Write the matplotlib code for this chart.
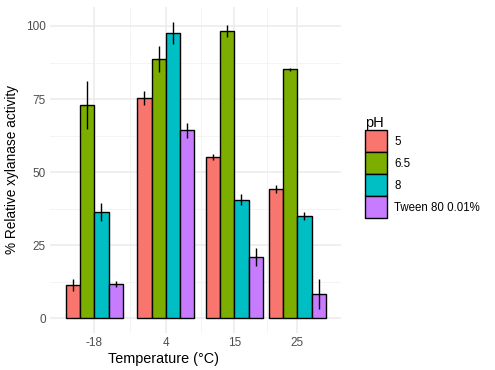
import matplotlib
matplotlib.use("Agg")
import matplotlib.pyplot as plt
from matplotlib.patches import Patch
import numpy as np

plt.rcParams['font.family'] = ['Liberation Sans', 'DejaVu Sans']

temps = ["-18", "4", "15", "25"]
ph_labels = ["5", "6.5", "8", "Tween 80 0.01%"]
colors = ["#F8766D", "#7CAE00", "#00BFC4", "#C77CFF"]

# activity per pH level, one value per temperature
act_5 = [11.3, 75.3, 55.2, 44.3]
act_65 = [73.0, 88.6, 98.2, 85.2]
act_8 = [36.3, 97.6, 40.6, 35.0]
act_tw = [11.6, 64.3, 20.9, 8.2]
err_5 = [2.1, 2.3, 1.0, 1.4]
err_65 = [8.2, 4.5, 2.0, 0.5]
err_8 = [3.0, 3.8, 2.0, 1.4]
err_tw = [1.0, 2.5, 3.0, 5.2]

values = [act_5, act_65, act_8, act_tw]
errors = [err_5, err_65, err_8, err_tw]

# group centres as they sit in the original picture (spacing is uneven there)
group_x = np.array([1.04, 2.07, 3.06, 3.97])
minor_x = [1.55, 2.58, 3.53]

fig = plt.figure(figsize=(4.95, 3.7), dpi=100)
ax = fig.add_axes([50/495, 1 - 333/370, 291/495, (333 - 7)/370])

total_w = 0.82
bw = total_w / 4
for i in range(4):
    pos = group_x - total_w/2 + bw*(i + 0.5)
    ax.bar(pos, values[i], width=bw, color=colors[i], edgecolor="black",
           linewidth=1.0, zorder=2)
    ax.errorbar(pos, values[i], yerr=errors[i], fmt="none", ecolor="black",
                elinewidth=1.0, capsize=0, zorder=3)

ax.set_xlim(0.4, 4.6)
ax.set_ylim(-5.07, 106.5)
ax.set_xticks(group_x)
ax.set_xticklabels(temps)
ax.set_xticks(minor_x, minor=True)
ax.set_yticks([0, 25, 50, 75, 100])
ax.set_yticks([12.5, 37.5, 62.5, 87.5], minor=True)
ax.grid(which="major", color="#EBEBEB", linewidth=1.1, zorder=0)
ax.grid(which="minor", color="#F2F2F2", linewidth=0.6, zorder=0)
ax.set_axisbelow(True)
for s in ax.spines.values():
    s.set_visible(False)
ax.tick_params(which="both", length=0, labelsize=8.5, labelcolor="#4D4D4D", pad=3)

# x title sits left of the panel centre in the original
ax.set_xlabel("Temperature (°C)", fontsize=10.4, labelpad=2)
ax.xaxis.label.set_x((163 - 50) / 291)
ax.set_ylabel("% Relative xylanase activity", fontsize=9.8, labelpad=5)

handles = [Patch(facecolor=colors[i], edgecolor="black", linewidth=1.0) for i in range(4)]
leg = fig.legend(handles, ph_labels, title="pH", loc="upper left",
                 bbox_to_anchor=(355/495, 1 - 106/370), frameon=False,
                 fontsize=8.3, title_fontsize=10.5, handlelength=1.9, handleheight=2.56,
                 labelspacing=0.0, handletextpad=0.6, alignment="left")

fig.savefig("out.png", dpi=100)
